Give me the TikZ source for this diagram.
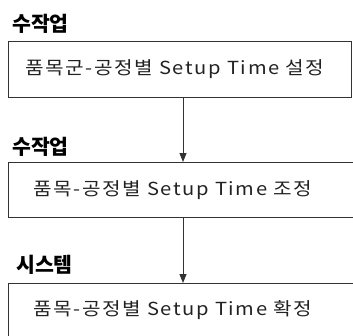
\documentclass[tikz,border=0pt]{standalone}
\usepackage{fontspec}
\setmainfont{Noto Sans CJK KR}
\newfontfamily\boxfont[LetterSpace=8]{Noto Sans CJK KR}
\usetikzlibrary{arrows.meta}
\definecolor{ln}{HTML}{333333}
\definecolor{tx}{HTML}{222222}
\newcommand{\widetxt}[1]{\scalebox{1.12}[1]{#1}}
\tikzset{
  boxline/.style={draw=ln, line width=0.9pt},
  lbl/.style={anchor=west, inner sep=0pt, font=\fontsize{20.5}{22}\selectfont\bfseries},
  boxtext/.style={anchor=west, inner sep=0pt, text=tx, font=\boxfont\fontsize{18}{20}\selectfont},
  flow/.style={draw=ln, line width=0.9pt, -{Triangle[width=7pt,length=9pt]}}
}
\begin{document}
\begin{tikzpicture}[x=1pt,y=1pt]
\useasboundingbox (0,0) rectangle (353,-335);
\begin{scope}
\clip (0,0) rectangle (353,-335);
\draw[boxline] (8.5,-41) rectangle (351.5,-97);
\draw[boxline] (8.5,-162) rectangle (360,-217);
\draw[boxline] (8.5,-283) rectangle (360,-345);
\end{scope}
\coordinate (b1bot) at (183,-97);
\coordinate (b2top) at (183,-162);
\coordinate (b2bot) at (183,-217);
\coordinate (b3top) at (183,-283);
\node[lbl] (l1) at (12,-24) {수작업};
\node[lbl] (l2) at (12,-147) {수작업};
\node[lbl] (l3) at (16,-265) {시스템};
\node[boxtext] (t1) at (25,-69.5) {\widetxt{품목군-공정별 Setup Time 설정}};
\node[boxtext] (t2) at (33,-190) {\widetxt{품목-공정별 Setup Time 조정}};
\node[boxtext] (t3) at (33,-310) {\widetxt{품목-공정별 Setup Time 확정}};
\draw[flow] (b1bot) -- (b2top);
\draw[flow] (b2bot) -- (b3top);
\end{tikzpicture}
\end{document}
